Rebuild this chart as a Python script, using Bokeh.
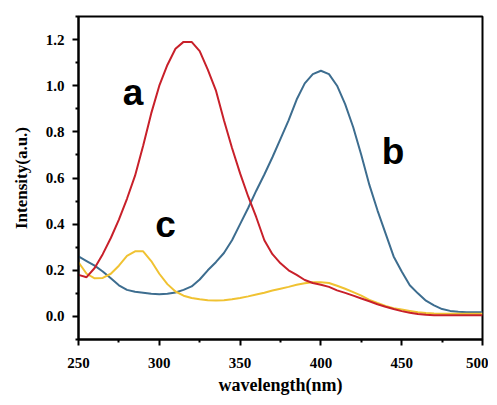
from bokeh.plotting import figure
from bokeh.embed import file_html
from bokeh.resources import INLINE
from bokeh.models import Label, FixedTicker, NumeralTickFormatter, Range1d

wavelength = list(range(250, 505, 5))

series_a = [0.18, 0.17, 0.21, 0.27, 0.34, 0.42, 0.51, 0.61, 0.74, 0.88,
            1.00, 1.09, 1.16, 1.19, 1.19, 1.15, 1.07, 0.98, 0.85, 0.73,
            0.62, 0.52, 0.43, 0.33, 0.27, 0.23, 0.20, 0.18, 0.158, 0.145,
            0.137, 0.128, 0.113, 0.102, 0.09, 0.078, 0.066, 0.053, 0.042, 0.032,
            0.023, 0.016, 0.011, 0.007, 0.005, 0.005, 0.005, 0.005, 0.005, 0.005,
            0.005]

series_b = [0.26, 0.24, 0.22, 0.195, 0.165, 0.135, 0.115, 0.107, 0.103, 0.098,
            0.096, 0.098, 0.104, 0.115, 0.13, 0.16, 0.20, 0.235, 0.275, 0.33,
            0.40, 0.47, 0.545, 0.615, 0.69, 0.77, 0.85, 0.94, 1.01, 1.05,
            1.065, 1.05, 1.0, 0.92, 0.82, 0.70, 0.57, 0.46, 0.36, 0.26,
            0.195, 0.135, 0.10, 0.068, 0.048, 0.032, 0.024, 0.02, 0.018, 0.018,
            0.018]

series_c = [0.235, 0.185, 0.165, 0.167, 0.185, 0.22, 0.262, 0.282, 0.282, 0.24,
            0.185, 0.14, 0.108, 0.09, 0.08, 0.074, 0.07, 0.069, 0.07, 0.074,
            0.08, 0.087, 0.095, 0.103, 0.112, 0.12, 0.128, 0.137, 0.144, 0.148,
            0.148, 0.145, 0.133, 0.12, 0.105, 0.09, 0.072, 0.058, 0.045, 0.036,
            0.03, 0.024, 0.018, 0.015, 0.013, 0.012, 0.012, 0.012, 0.012, 0.012,
            0.012]

x_ticks = [250, 300, 350, 400, 450, 500]
x_minor = [275, 325, 375, 425, 475]
y_ticks = [0.0, 0.2, 0.4, 0.6, 0.8, 1.0, 1.2]
y_minor = [-0.1, 0.1, 0.3, 0.5, 0.7, 0.9, 1.1, 1.3]

p = figure(width=488, height=397, output_backend="svg", toolbar_location=None,
           x_range=Range1d(250, 500), y_range=Range1d(-0.1, 1.3),
           min_border_left=78, min_border_top=16, min_border_right=6, min_border_bottom=58)
p.xgrid.visible = False
p.ygrid.visible = False
p.outline_line_color = "black"
p.outline_line_width = 2
p.background_fill_color = "white"
p.border_fill_color = "white"

p.line(wavelength, series_b, line_color="#3d6d8f", line_width=2)
p.line(wavelength, series_c, line_color="#f0c232", line_width=2)
p.line(wavelength, series_a, line_color="#c8202a", line_width=2)

for ax in (p.xaxis[0], p.yaxis[0]):
    ax.axis_line_width = 2
    ax.axis_line_color = "black"
    ax.major_tick_line_width = 2
    ax.minor_tick_line_width = 2
    ax.major_tick_out = 6
    ax.major_tick_in = 0
    ax.minor_tick_out = 3
    ax.minor_tick_in = 0
    ax.major_label_text_font = "Liberation Serif"
    ax.major_label_text_font_style = "bold"
    ax.major_label_text_font_size = "15px"
    ax.major_label_text_color = "black"
    ax.axis_label_text_font = "Liberation Serif"
    ax.axis_label_text_font_style = "bold"
    ax.axis_label_text_color = "black"

p.xaxis.ticker = FixedTicker(ticks=x_ticks, minor_ticks=x_minor)
p.yaxis.ticker = FixedTicker(ticks=y_ticks, minor_ticks=y_minor)
p.yaxis.formatter = NumeralTickFormatter(format="0.0")
p.xaxis.axis_label = "wavelength(nm)"
p.yaxis.axis_label = "Intensity(a.u.)"
p.xaxis.axis_label_text_font_size = "18px"
p.yaxis.axis_label_text_font_size = "17px"
p.xaxis.major_label_standoff = 12
p.yaxis.major_label_standoff = 8
p.xaxis.axis_label_standoff = 4
p.yaxis.axis_label_standoff = 12

for txt, xx, yy in [("a", 283.7, 0.972), ("b", 444.6, 0.715), ("c", 303.8, 0.40)]:
    p.add_layout(Label(x=xx, y=yy, text=txt, text_font="Liberation Sans",
                       text_font_style="bold", text_font_size="37px",
                       text_align="center", text_baseline="middle",
                       text_color="black"))

open("out.html", "w").write(file_html(p, INLINE))
